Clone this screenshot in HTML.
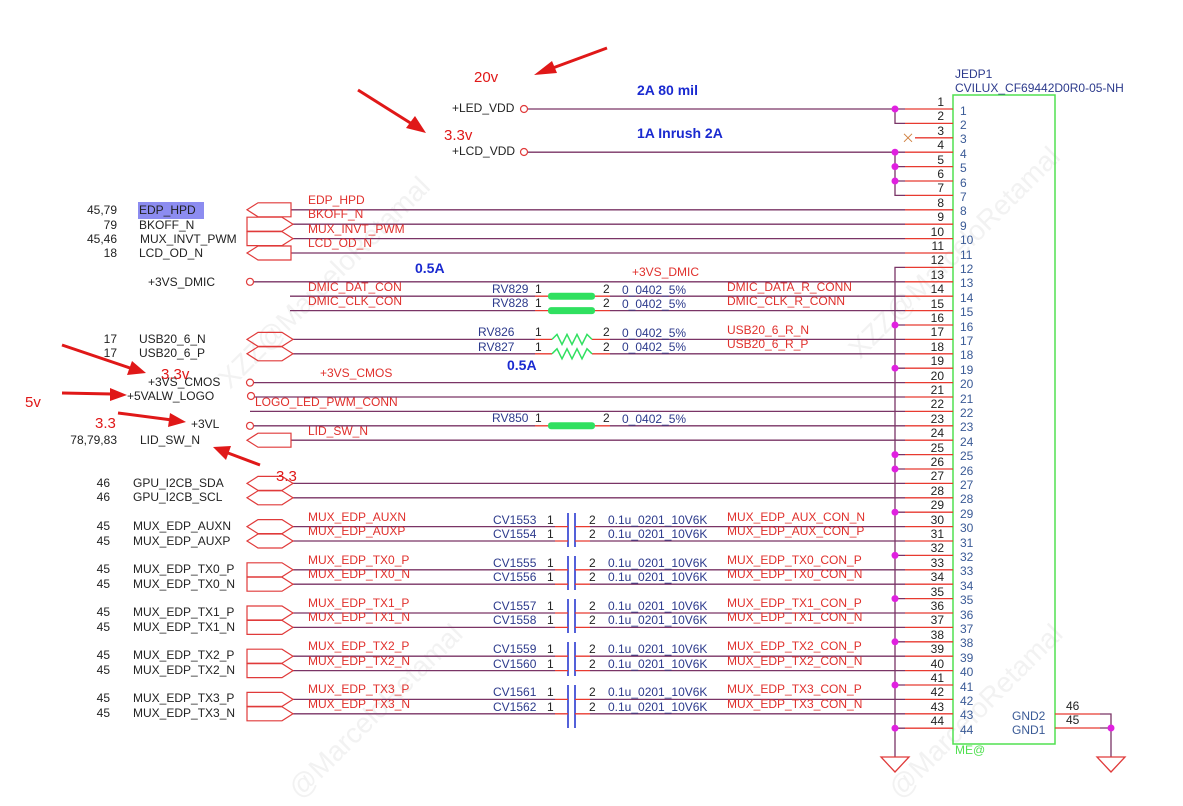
<!DOCTYPE html>
<html><head><meta charset="utf-8"><style>
html,body{margin:0;padding:0;background:#fff;}
svg{display:block;font-family:"Liberation Sans",sans-serif;}
.k{fill:#222;font-size:12px}
.r{fill:#e0302c;font-size:12px}
.b{fill:#2c3a8c;font-size:12px}
.bb{fill:#1a2ad0;font-size:14px;font-weight:bold}
.pn{fill:#3a5a96;font-size:12px}
.ln{stroke:#7a3466;stroke-width:1.3;fill:none}
.rd{stroke:#e83a30;stroke-width:1.3;fill:none}
.pt{stroke:#e03a3a;stroke-width:1.2;fill:none}
.dot{fill:#e020e0}
.wm{fill:#f2f2f2;font-size:28px}
</style></head><body>
<svg width="1183" height="806" viewBox="0 0 1183 806">
<!-- watermarks -->
<text class="wm" transform="translate(230,390) rotate(-45)">XZZ@MarceloRetamal</text>
<text class="wm" transform="translate(860,360) rotate(-45)">XZZ@MarceloRetamal</text>
<text class="wm" transform="translate(300,800) rotate(-45)">@MarceloRetamal</text>
<text class="wm" transform="translate(900,800) rotate(-45)">@MarceloRetamal</text>

<!-- connector box -->
<rect x="953" y="95" width="102" height="649" fill="none" stroke="#50e050" stroke-width="1.5"/>
<text class="b" x="955" y="78">JEDP1</text>
<text class="b" x="955" y="92">CVILUX_CF69442D0R0-05-NH</text>
<text x="955" y="754" style="fill:#50e050;font-size:12px">ME@</text>
<text class="pn" x="1012" y="720">GND2</text>
<text class="pn" x="1012" y="734">GND1</text>
<text class="k" x="1066" y="710">46</text>
<text class="k" x="1066" y="724">45</text>
<path class="rd" d="M1055 714H1100M1055 728H1100"/>
<path class="ln" d="M1100 714H1111V757M1100 728H1111"/>
<circle class="dot" cx="1111" cy="728" r="3.5"/>
<path d="M1097 757H1125L1111 772Z" fill="none" stroke="#e03a3a" stroke-width="1.3"/>

<!-- pin stubs & numbers -->
<g id="pins">
<path class="rd" d="M905 109H953M905 123.4H953M915 137.8H953M905 152.2H953M905 166.6H953M905 181H953M905 195.4H953M905 209.8H953M905 224.2H953M905 238.6H953M905 253H953M905 267.4H953M905 281.8H953M905 296.2H953M905 310.6H953M905 325H953M905 339.4H953M905 353.8H953M905 368.2H953M905 382.6H953M905 397H953M905 411.4H953M905 425.8H953M905 440.2H953M905 454.6H953M905 469H953M905 483.4H953M905 497.8H953M905 512.2H953M905 526.6H953M905 541H953M905 555.4H953M905 569.8H953M905 584.2H953M905 598.6H953M905 613H953M905 627.4H953M905 641.8H953M905 656.2H953M905 670.6H953M905 685H953M905 699.4H953M905 713.8H953M905 728.2H953"/>
<path d="M904 133.8L912 141.8M912 133.8L904 141.8" stroke="#d08040" stroke-width="1"/>
<g class="k" text-anchor="end">
<text x="944" y="106">1</text><text x="944" y="120">2</text><text x="944" y="135">3</text><text x="944" y="149">4</text><text x="944" y="164">5</text><text x="944" y="178">6</text><text x="944" y="192">7</text><text x="944" y="207">8</text><text x="944" y="221">9</text><text x="944" y="236">10</text><text x="944" y="250">11</text><text x="944" y="264">12</text><text x="944" y="279">13</text><text x="944" y="293">14</text><text x="944" y="308">15</text><text x="944" y="322">16</text><text x="944" y="336">17</text><text x="944" y="351">18</text><text x="944" y="365">19</text><text x="944" y="380">20</text><text x="944" y="394">21</text><text x="944" y="408">22</text><text x="944" y="423">23</text><text x="944" y="437">24</text><text x="944" y="452">25</text><text x="944" y="466">26</text><text x="944" y="480">27</text><text x="944" y="495">28</text><text x="944" y="509">29</text><text x="944" y="524">30</text><text x="944" y="538">31</text><text x="944" y="552">32</text><text x="944" y="567">33</text><text x="944" y="581">34</text><text x="944" y="596">35</text><text x="944" y="610">36</text><text x="944" y="624">37</text><text x="944" y="639">38</text><text x="944" y="653">39</text><text x="944" y="668">40</text><text x="944" y="682">41</text><text x="944" y="696">42</text><text x="944" y="711">43</text><text x="944" y="725">44</text>
</g>
<g class="pn">
<text x="960" y="115">1</text><text x="960" y="129">2</text><text x="960" y="143">3</text><text x="960" y="158">4</text><text x="960" y="172">5</text><text x="960" y="187">6</text><text x="960" y="201">7</text><text x="960" y="215">8</text><text x="960" y="230">9</text><text x="960" y="244">10</text><text x="960" y="259">11</text><text x="960" y="273">12</text><text x="960" y="287">13</text><text x="960" y="302">14</text><text x="960" y="316">15</text><text x="960" y="331">16</text><text x="960" y="345">17</text><text x="960" y="359">18</text><text x="960" y="374">19</text><text x="960" y="388">20</text><text x="960" y="403">21</text><text x="960" y="417">22</text><text x="960" y="431">23</text><text x="960" y="446">24</text><text x="960" y="460">25</text><text x="960" y="475">26</text><text x="960" y="489">27</text><text x="960" y="503">28</text><text x="960" y="518">29</text><text x="960" y="532">30</text><text x="960" y="547">31</text><text x="960" y="561">32</text><text x="960" y="575">33</text><text x="960" y="590">34</text><text x="960" y="604">35</text><text x="960" y="619">36</text><text x="960" y="633">37</text><text x="960" y="647">38</text><text x="960" y="662">39</text><text x="960" y="676">40</text><text x="960" y="691">41</text><text x="960" y="705">42</text><text x="960" y="719">43</text><text x="960" y="734">44</text>
</g>
</g>

<!-- top power -->
<text class="k" x="452" y="112">+LED_VDD</text>
<circle cx="524" cy="109" r="3.5" fill="none" stroke="#e03a3a" stroke-width="1.2"/>
<text class="k" x="452" y="155">+LCD_VDD</text>
<circle cx="524" cy="152" r="3.5" fill="none" stroke="#e03a3a" stroke-width="1.2"/>
<path class="ln" d="M528 109H905M895 109V123.4H905M528 152.2H905M895 152.2V195.4H905M895 166.6H905M895 181H905"/>
<circle class="dot" cx="895" cy="109" r="3.5"/><circle class="dot" cx="895" cy="152.2" r="3.5"/><circle class="dot" cx="895" cy="166.6" r="3.5"/><circle class="dot" cx="895" cy="181" r="3.5"/>
<text class="bb" x="637" y="95">2A 80 mil</text>
<text class="bb" x="637" y="138">1A Inrush 2A</text>

<!-- GND bus -->
<path class="ln" d="M905 267.4H895V757M895 325H905M895 368.2H905M895 454.6H905M895 469H905M895 512.2H905M895 555.4H905M895 598.6H905M895 641.8H905M895 685H905M895 728.2H905"/>
<g class="dot"><circle cx="895" cy="325" r="3.5"/><circle cx="895" cy="368.2" r="3.5"/><circle cx="895" cy="454.6" r="3.5"/><circle cx="895" cy="469" r="3.5"/><circle cx="895" cy="512.2" r="3.5"/><circle cx="895" cy="555.4" r="3.5"/><circle cx="895" cy="598.6" r="3.5"/><circle cx="895" cy="641.8" r="3.5"/><circle cx="895" cy="685" r="3.5"/><circle cx="895" cy="728.2" r="3.5"/></g>
<path d="M881 757H909L895 772Z" fill="none" stroke="#e03a3a" stroke-width="1.3"/>

<!-- signal lines -->
<path class="ln" d="M291 209.8H905M293 224.2H905M293 238.6H905M291 253H905M254 281.8H905M290 296.2H535M610 296.2H905M290 310.6H535M610 310.6H905M293 339.4H535M610 339.4H905M293 353.8H535M610 353.8H905M254 382.6H905M254 397H905M250 411.4H905M254 425.8H535M610 425.8H905M291 440.2H905M293 483.4H905M293 497.8H905M293 526.6H555M590 526.6H905M293 541H555M590 541H905M293 569.8H555M590 569.8H905M293 584.2H555M590 584.2H905M293 613H555M590 613H905M293 627.4H555M590 627.4H905M293 656.2H555M590 656.2H905M293 670.6H555M590 670.6H905M293 699.4H555M590 699.4H905M293 713.8H555M590 713.8H905"/>

<!-- ports -->
<g class="pt">
<polygon points="291,202.8 258,202.8 247,209.8 258,216.8 291,216.8"/>
<polygon points="247,217.2 282,217.2 293,224.2 282,231.2 247,231.2"/>
<polygon points="247,231.6 282,231.6 293,238.6 282,245.6 247,245.6"/>
<polygon points="291,246 258,246 247,253 258,260 291,260"/>
<polygon points="247,339.4 258,332.4 282,332.4 293,339.4 282,346.4 258,346.4"/>
<polygon points="247,353.8 258,346.8 282,346.8 293,353.8 282,360.8 258,360.8"/>
<polygon points="291,433.2 258,433.2 247,440.2 258,447.2 291,447.2"/>
<polygon points="247,483.4 258,476.4 282,476.4 293,483.4 282,490.4 258,490.4"/>
<polygon points="247,497.8 258,490.8 282,490.8 293,497.8 282,504.8 258,504.8"/>
<polygon points="247,526.6 258,519.6 282,519.6 293,526.6 282,533.6 258,533.6"/>
<polygon points="247,541 258,534 282,534 293,541 282,548 258,548"/>
<polygon points="247,562.8 282,562.8 293,569.8 282,576.8 247,576.8"/><polygon points="247,577.2 282,577.2 293,584.2 282,591.2 247,591.2"/>
<polygon points="247,606 282,606 293,613 282,620 247,620"/><polygon points="247,620.4 282,620.4 293,627.4 282,634.4 247,634.4"/>
<polygon points="247,649.2 282,649.2 293,656.2 282,663.2 247,663.2"/><polygon points="247,663.6 282,663.6 293,670.6 282,677.6 247,677.6"/>
<polygon points="247,692.4 282,692.4 293,699.4 282,706.4 247,706.4"/><polygon points="247,706.8 282,706.8 293,713.8 282,720.8 247,720.8"/>
<circle cx="250" cy="281.8" r="3.5"/><circle cx="250" cy="382.6" r="3.5"/><circle cx="251" cy="396" r="3.5"/><circle cx="250" cy="425.8" r="3.5"/>
</g>

<!-- resistors -->
<path class="rd" d="M535 296.2H548M595 296.2H610M535 310.6H548M595 310.6H610M535 339.4H552M592 339.4H610M535 353.8H552M592 353.8H610M535 425.8H548M595 425.8H610"/>
<g fill="#30e060"><rect x="548" y="292.7" width="47" height="7" rx="3"/><rect x="548" y="307.1" width="47" height="7" rx="3"/><rect x="548" y="422.3" width="47" height="7" rx="3"/></g>
<path d="M552 339.4l5-5 5 10 5-10 5 10 5-10 5 10 5-10 5 5M552 353.8l5-5 5 10 5-10 5 10 5-10 5 10 5-10 5 5" fill="none" stroke="#30e060" stroke-width="1.5"/>
<g class="b">
<text x="492" y="293">RV829</text><text x="492" y="307">RV828</text><text x="478" y="336">RV826</text><text x="478" y="351">RV827</text><text x="492" y="422">RV850</text>
</g>
<g class="k"><text x="535" y="293">1</text><text x="535" y="307">1</text><text x="535" y="336">1</text><text x="535" y="351">1</text><text x="535" y="422">1</text>
<text x="603" y="293">2</text><text x="603" y="307">2</text><text x="603" y="336">2</text><text x="603" y="351">2</text><text x="603" y="422">2</text></g>
<g class="b"><text x="622" y="294">0_0402_5%</text><text x="622" y="308">0_0402_5%</text><text x="622" y="337">0_0402_5%</text><text x="622" y="351">0_0402_5%</text><text x="622" y="423">0_0402_5%</text></g>

<!-- caps -->
<path d="M568 513V547M575 513V547M568 556V590M575 556V590M568 599V633M575 599V633M568 642V676M575 642V676M568 685V728M575 685V728" stroke="#2a3ad0" stroke-width="1.6"/>
<path class="rd" d="M555 526.6H568M575 526.6H590M555 541H568M575 541H590M555 569.8H568M575 569.8H590M555 584.2H568M575 584.2H590M555 613H568M575 613H590M555 627.4H568M575 627.4H590M555 656.2H568M575 656.2H590M555 670.6H568M575 670.6H590M555 699.4H568M575 699.4H590M555 713.8H568M575 713.8H590"/>
<g class="b">
<text x="493" y="524">CV1553</text><text x="493" y="538">CV1554</text><text x="493" y="567">CV1555</text><text x="493" y="581">CV1556</text><text x="493" y="610">CV1557</text><text x="493" y="624">CV1558</text><text x="493" y="653">CV1559</text><text x="493" y="668">CV1560</text><text x="493" y="696">CV1561</text><text x="493" y="711">CV1562</text>
<text x="608" y="524">0.1u_0201_10V6K</text><text x="608" y="538">0.1u_0201_10V6K</text><text x="608" y="567">0.1u_0201_10V6K</text><text x="608" y="581">0.1u_0201_10V6K</text><text x="608" y="610">0.1u_0201_10V6K</text><text x="608" y="624">0.1u_0201_10V6K</text><text x="608" y="653">0.1u_0201_10V6K</text><text x="608" y="668">0.1u_0201_10V6K</text><text x="608" y="696">0.1u_0201_10V6K</text><text x="608" y="711">0.1u_0201_10V6K</text>
</g>
<g class="k">
<text x="547" y="524">1</text><text x="547" y="538">1</text><text x="547" y="567">1</text><text x="547" y="581">1</text><text x="547" y="610">1</text><text x="547" y="624">1</text><text x="547" y="653">1</text><text x="547" y="668">1</text><text x="547" y="696">1</text><text x="547" y="711">1</text>
<text x="589" y="524">2</text><text x="589" y="538">2</text><text x="589" y="567">2</text><text x="589" y="581">2</text><text x="589" y="610">2</text><text x="589" y="624">2</text><text x="589" y="653">2</text><text x="589" y="668">2</text><text x="589" y="696">2</text><text x="589" y="711">2</text>
</g>

<!-- red net labels -->
<g class="r">
<text x="308" y="204">EDP_HPD</text><text x="308" y="218">BKOFF_N</text><text x="308" y="233">MUX_INVT_PWM</text><text x="308" y="247">LCD_OD_N</text>
<text x="632" y="276">+3VS_DMIC</text>
<text x="308" y="291">DMIC_DAT_CON</text><text x="308" y="305">DMIC_CLK_CON</text>
<text x="727" y="291">DMIC_DATA_R_CONN</text><text x="727" y="305">DMIC_CLK_R_CONN</text>
<text x="727" y="334">USB20_6_R_N</text><text x="727" y="348">USB20_6_R_P</text>
<text x="320" y="377">+3VS_CMOS</text>
<text x="255" y="406">LOGO_LED_PWM_CONN</text>
<text x="308" y="435">LID_SW_N</text>
<text x="308" y="521">MUX_EDP_AUXN</text><text x="308" y="535">MUX_EDP_AUXP</text>
<text x="308" y="564">MUX_EDP_TX0_P</text><text x="308" y="578">MUX_EDP_TX0_N</text>
<text x="308" y="607">MUX_EDP_TX1_P</text><text x="308" y="621">MUX_EDP_TX1_N</text>
<text x="308" y="650">MUX_EDP_TX2_P</text><text x="308" y="665">MUX_EDP_TX2_N</text>
<text x="308" y="693">MUX_EDP_TX3_P</text><text x="308" y="708">MUX_EDP_TX3_N</text>
<text x="727" y="521">MUX_EDP_AUX_CON_N</text><text x="727" y="535">MUX_EDP_AUX_CON_P</text>
<text x="727" y="564">MUX_EDP_TX0_CON_P</text><text x="727" y="578">MUX_EDP_TX0_CON_N</text>
<text x="727" y="607">MUX_EDP_TX1_CON_P</text><text x="727" y="621">MUX_EDP_TX1_CON_N</text>
<text x="727" y="650">MUX_EDP_TX2_CON_P</text><text x="727" y="665">MUX_EDP_TX2_CON_N</text>
<text x="727" y="693">MUX_EDP_TX3_CON_P</text><text x="727" y="708">MUX_EDP_TX3_CON_N</text>
</g>
<text class="bb" x="415" y="273">0.5A</text>
<text class="bb" x="507" y="370">0.5A</text>

<!-- left labels -->
<rect x="138" y="202" width="66" height="17" fill="#8c8cf0"/>
<g class="k">
<text x="117" y="214" text-anchor="end">45,79</text><text x="139" y="214">EDP_HPD</text>
<text x="117" y="229" text-anchor="end">79</text><text x="139" y="229">BKOFF_N</text>
<text x="117" y="243" text-anchor="end">45,46</text><text x="140" y="243">MUX_INVT_PWM</text>
<text x="117" y="257" text-anchor="end">18</text><text x="139" y="257">LCD_OD_N</text>
<text x="148" y="286">+3VS_DMIC</text>
<text x="117" y="343" text-anchor="end">17</text><text x="139" y="343">USB20_6_N</text>
<text x="117" y="357" text-anchor="end">17</text><text x="139" y="357">USB20_6_P</text>
<text x="148" y="386">+3VS_CMOS</text>
<text x="127" y="400">+5VALW_LOGO</text>
<text x="191" y="428">+3VL</text>
<text x="117" y="444" text-anchor="end">78,79,83</text><text x="140" y="444">LID_SW_N</text>
<text x="110" y="487" text-anchor="end">46</text><text x="133" y="487">GPU_I2CB_SDA</text>
<text x="110" y="501" text-anchor="end">46</text><text x="133" y="501">GPU_I2CB_SCL</text>
<text x="110" y="530" text-anchor="end">45</text><text x="133" y="530">MUX_EDP_AUXN</text>
<text x="110" y="545" text-anchor="end">45</text><text x="133" y="545">MUX_EDP_AUXP</text>
<text x="110" y="573" text-anchor="end">45</text><text x="133" y="573">MUX_EDP_TX0_P</text>
<text x="110" y="588" text-anchor="end">45</text><text x="133" y="588">MUX_EDP_TX0_N</text>
<text x="110" y="616" text-anchor="end">45</text><text x="133" y="616">MUX_EDP_TX1_P</text>
<text x="110" y="631" text-anchor="end">45</text><text x="133" y="631">MUX_EDP_TX1_N</text>
<text x="110" y="659" text-anchor="end">45</text><text x="133" y="659">MUX_EDP_TX2_P</text>
<text x="110" y="674" text-anchor="end">45</text><text x="133" y="674">MUX_EDP_TX2_N</text>
<text x="110" y="702" text-anchor="end">45</text><text x="133" y="702">MUX_EDP_TX3_P</text>
<text x="110" y="717" text-anchor="end">45</text><text x="133" y="717">MUX_EDP_TX3_N</text>
</g>

<!-- annotations -->
<g fill="#e01818" font-size="15">
<text x="474" y="82">20v</text><text x="444" y="140">3.3v</text>
<text x="161" y="379">3.3v</text><text x="25" y="407">5v</text>
<text x="95" y="428">3.3</text><text x="276" y="481">3.3</text>
</g>
<g stroke="#e01818" stroke-width="3" fill="#e01818">
<line x1="607" y1="48" x2="550" y2="69"/><polygon points="534,75 552,61 557,73" stroke="none"/>
<line x1="358" y1="90" x2="412" y2="124"/><polygon points="426,133 406,128 415,116" stroke="none"/>
<line x1="62" y1="345" x2="130" y2="368"/><polygon points="146,373 127,375 132,361" stroke="none"/>
<line x1="62" y1="393" x2="112" y2="394"/><polygon points="127,395 110,401 110,388" stroke="none"/>
<line x1="118" y1="413" x2="172" y2="420"/><polygon points="186,422 168,427 170,413" stroke="none"/>
<line x1="260" y1="465" x2="228" y2="453"/><polygon points="213,447 231,446 226,460" stroke="none"/>
</g>
</svg>
</body></html>
